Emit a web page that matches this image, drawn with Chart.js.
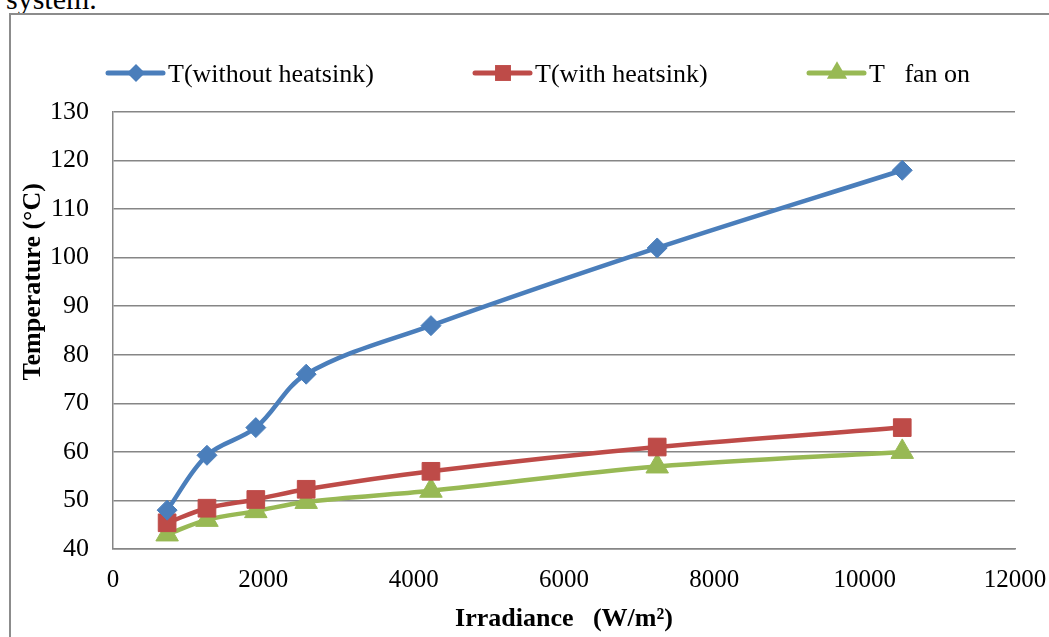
<!DOCTYPE html>
<html>
<head>
<meta charset="utf-8">
<script src="https://cdn.jsdelivr.net/npm/chart.js@4.4.1/dist/chart.umd.min.js"></script>
<style>
  html, body { margin: 0; padding: 0; background: #fff; width: 1049px; height: 637px; overflow: hidden; }
  #frame { position: absolute; left: 9px; top: 13px; width: 1100px; height: 700px; border: 2px solid #8c8c8c; box-sizing: border-box; }
  #caption { position: absolute; left: 6px; top: -18px; font: 30px/34px "Liberation Serif", serif; color: #000; white-space: pre; }
  #wrap { position: absolute; left: 0; top: 0; width: 1049px; height: 637px; }
</style>
</head>
<body>
<div id="caption">system.</div>
<div id="frame"></div>
<div id="wrap"><canvas id="c" width="1049" height="637"></canvas></div>
<script>
const irradiance = [720, 1250, 1900, 2570, 4230, 7240, 10500];
const tWithoutHeatsink = [48, 59.3, 65, 76, 86, 102, 118];
const tWithHeatsink = [45.4, 48.4, 50.2, 52.3, 56, 61, 65];
const tFanOn = [43, 46, 47.8, 49.7, 52, 57, 60];
const seriesLabels = ['T(without heatsink)', 'T(with heatsink)', 'T   fan on'];
const xTickValues = [0, 2000, 4000, 6000, 8000, 10000, 12000];
const yTickValues = [40, 50, 60, 70, 80, 90, 100, 110, 120, 130];
const xTitle = 'Irradiance   (W/m²)';
const yTitle = 'Temperature (°C)';

const colors = ['#4a7ebb', '#be4b48', '#98b954'];
const styles = ['rectRot', 'rect', 'triangle'];
const radii = [10, 12.5, 13];
const seriesValues = [tWithoutHeatsink, tWithHeatsink, tFanOn];
const FONT = '"Liberation Serif", "Times New Roman", serif';

const datasets = seriesValues.map((vals, i) => ({
  label: seriesLabels[i],
  data: irradiance.map((x, k) => ({ x: x, y: vals[k] })),
  borderColor: colors[i],
  backgroundColor: colors[i],
  borderWidth: 4.5,
  pointStyle: styles[i],
  pointRadius: radii[i],
  pointBorderWidth: 1,
  pointBorderColor: colors[i],
  pointBackgroundColor: colors[i],
  tension: 0.35,
  fill: false
}));

function drawMarker(ctx, style, r, x, y, color) {
  ctx.save();
  ctx.fillStyle = color;
  ctx.beginPath();
  if (style === 'rectRot') {
    ctx.moveTo(x, y - r); ctx.lineTo(x + r, y); ctx.lineTo(x, y + r); ctx.lineTo(x - r, y);
  } else if (style === 'rect') {
    const s = Math.SQRT1_2 * r;
    ctx.rect(x - s, y - s, 2 * s, 2 * s);
  } else {
    const w = r * Math.sin(Math.PI / 3);
    ctx.moveTo(x, y - r); ctx.lineTo(x + w, y + r / 2); ctx.lineTo(x - w, y + r / 2);
  }
  ctx.closePath();
  ctx.fill();
  ctx.restore();
}

const legendPlugin = {
  id: 'customLegend',
  afterDraw(chart) {
    const ctx = chart.ctx;
    const starts = [108, 475, 809];
    const y = 73;
    ctx.save();
    chart.data.datasets.forEach((ds, i) => {
      const x0 = starts[i];
      ctx.strokeStyle = colors[i];
      ctx.lineWidth = 5;
      ctx.lineCap = 'round';
      ctx.beginPath();
      ctx.moveTo(x0, y); ctx.lineTo(x0 + 55, y);
      ctx.stroke();
      drawMarker(ctx, styles[i], radii[i] * 0.9, x0 + 28, y, colors[i]);
      ctx.fillStyle = '#000';
      ctx.font = '26px ' + FONT;
      ctx.textBaseline = 'alphabetic';
      ctx.textAlign = 'left';
      ctx.fillText(ds.label, x0 + 60, 82);
    });
    ctx.restore();
  }
};

// leading spaces shift the rotated title upward, as in the original
const yTitlePadded = ' '.repeat(15) + yTitle;

new Chart(document.getElementById('c'), {
  type: 'line',
  data: { datasets: datasets },
  options: {
    responsive: false,
    animation: false,
    layout: { padding: { top: 112, right: 34, bottom: 0, left: 0 } },
    plugins: { legend: { display: false }, tooltip: { enabled: false } },
    scales: {
      x: {
        type: 'linear',
        min: 0, max: 12000,
        afterBuildTicks: (s) => { s.ticks = xTickValues.map(v => ({ value: v })); },
        afterFit: (s) => { s.height = 88; s.paddingLeft = 0; s.paddingRight = 0; },
        ticks: { color: '#000', font: { family: FONT, size: 25 }, padding: 16, maxRotation: 0, callback: (v) => String(v) },
        grid: { display: false, drawTicks: false },
        border: { display: true, color: '#868686', width: 1.5 },
        title: { display: true, text: xTitle, color: '#000', font: { family: FONT, size: 26, weight: 'bold' }, padding: { top: 2, bottom: 2 } }
      },
      y: {
        min: 40, max: 130,
        afterBuildTicks: (s) => { s.ticks = yTickValues.map(v => ({ value: v })); },
        afterFit: (s) => { s.width = 113; s.paddingTop = 0; s.paddingBottom = 0; },
        ticks: { color: '#000', font: { family: FONT, size: 26 }, padding: 24 },
        grid: { color: '#868686', lineWidth: 1.5, drawTicks: false },
        border: { display: true, color: '#868686', width: 1.5 },
        title: { display: true, text: yTitlePadded, color: '#000', font: { family: FONT, size: 26, weight: 'bold' }, padding: { top: 18, bottom: 18 } }
      }
    }
  },
  plugins: [legendPlugin]
});
</script>
</body>
</html>
